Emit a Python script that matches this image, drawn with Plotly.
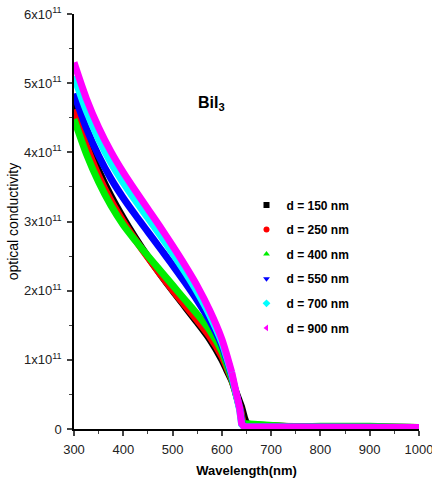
import plotly.graph_objects as go

# wavelength (nm) and optical conductivity (units of 1e11)
wl_magenta = [300, 325, 350, 375, 400, 425, 450, 475, 500, 525, 550, 575, 600, 610, 620, 630, 636, 640, 645, 700, 750, 800, 850, 900, 950, 1000]
s_900 = [5.30, 4.78, 4.36, 4.01, 3.71, 3.44, 3.18, 2.92, 2.65, 2.37, 2.07, 1.72, 1.30, 1.07, 0.82, 0.52, 0.30, 0.08, 0.03, 0.03, 0.03, 0.03, 0.03, 0.03, 0.02, 0.02]

wl_cyan = [300, 325, 350, 375, 400, 425, 450, 475, 500, 525, 550, 575, 600, 610, 620, 630, 636, 640, 645, 700, 750, 800, 850, 900, 950, 1000]
s_700 = [5.10, 4.60, 4.19, 3.85, 3.56, 3.30, 3.05, 2.80, 2.54, 2.27, 1.98, 1.65, 1.25, 1.03, 0.79, 0.50, 0.28, 0.07, 0.03, 0.03, 0.03, 0.03, 0.03, 0.03, 0.02, 0.02]

wl_blue = [300, 325, 350, 375, 400, 425, 450, 475, 500, 525, 550, 575, 600, 610, 620, 630, 637, 641, 646, 700, 750, 800, 850, 900, 950, 1000]
s_550 = [4.85, 4.35, 3.95, 3.62, 3.34, 3.09, 2.85, 2.61, 2.37, 2.12, 1.86, 1.57, 1.21, 1.00, 0.77, 0.50, 0.28, 0.07, 0.03, 0.03, 0.03, 0.03, 0.03, 0.03, 0.02, 0.02]

wl_black = [300, 325, 350, 375, 400, 425, 450, 475, 500, 525, 550, 575, 600, 610, 620, 630, 640, 646, 650, 660, 700, 750, 800, 850, 900, 950, 1000]
s_150 = [4.70, 4.18, 3.74, 3.37, 3.05, 2.76, 2.49, 2.24, 2.00, 1.77, 1.54, 1.30, 1.00, 0.85, 0.70, 0.52, 0.32, 0.16, 0.08, 0.06, 0.04, 0.03, 0.03, 0.03, 0.03, 0.02, 0.02]

wl_red = [300, 325, 350, 375, 400, 425, 450, 475, 500, 525, 550, 575, 600, 610, 620, 630, 638, 643, 650, 700, 750, 800, 850, 900, 950, 1000]
s_250 = [4.62, 4.10, 3.66, 3.30, 3.00, 2.73, 2.48, 2.24, 2.01, 1.79, 1.57, 1.34, 1.05, 0.89, 0.72, 0.50, 0.28, 0.08, 0.05, 0.04, 0.03, 0.03, 0.03, 0.03, 0.02, 0.02]

wl_green = [300, 325, 350, 375, 400, 425, 450, 475, 500, 525, 550, 575, 600, 610, 620, 630, 637, 642, 660, 700, 750, 800, 850, 900, 950, 1000]
s_400 = [4.48, 3.98, 3.57, 3.23, 2.95, 2.72, 2.50, 2.29, 2.08, 1.87, 1.66, 1.43, 1.12, 0.93, 0.73, 0.50, 0.28, 0.08, 0.07, 0.05, 0.03, 0.04, 0.05, 0.04, 0.03, 0.02]

labels = ["d = 150 nm", "d = 250 nm", "d = 400 nm", "d = 550 nm", "d = 700 nm", "d = 900 nm"]
colors = ["#000000", "#ff0000", "#00ee00", "#0000ff", "#00ffff", "#ff00ff"]
symbols = ["square", "circle", "triangle-up", "triangle-down", "diamond", "triangle-left"]
series_x = [wl_black, wl_red, wl_green, wl_blue, wl_cyan, wl_magenta]
series_y = [s_150, s_250, s_400, s_550, s_700, s_900]

y_tickvals = [0, 1, 2, 3, 4, 5, 6]
y_ticktext = ["0", "1x10<sup>11</sup>", "2x10<sup>11</sup>", "3x10<sup>11</sup>",
              "4x10<sup>11</sup>", "5x10<sup>11</sup>", "6x10<sup>11</sup>"]
x_tickvals = [300, 400, 500, 600, 700, 800, 900, 1000]

SPLIT_NM = 620  # smooth part up to here, straight segments for the sharp edge and tail

fig = go.Figure()
for i in range(6):
    xs, ys = series_x[i], [v * 1e11 for v in series_y[i]]
    k = xs.index(SPLIT_NM)
    fig.add_trace(go.Scatter(
        x=xs[:k + 1], y=ys[:k + 1], mode="lines",
        line=dict(color=colors[i], width=7, shape="spline", smoothing=0.8),
        showlegend=False, legendgroup=labels[i], hoverinfo="skip"))
    fig.add_trace(go.Scatter(
        x=xs[k:], y=ys[k:], mode="lines",
        line=dict(color=colors[i], width=7),
        showlegend=False, legendgroup=labels[i], hoverinfo="skip"))
for i in range(6):
    fig.add_trace(go.Scatter(
        x=[None], y=[None], mode="markers", name=labels[i],
        marker=dict(color=colors[i], symbol=symbols[i], size=6),
        legendgroup=labels[i], showlegend=True))

tick_font = dict(family="Liberation Sans, Arial", size=13, color="#222")
fig.update_layout(
    width=432, height=494,
    margin=dict(l=74, r=13, t=14, b=65),
    plot_bgcolor="white", paper_bgcolor="white",
    font=dict(family="Liberation Sans, Arial", color="black"),
    legend=dict(x=0.5, y=0.575, xanchor="left", yanchor="top",
                font=dict(family="Liberation Sans, Arial", size=12, color="black", weight="bold"),
                bgcolor="rgba(0,0,0,0)", tracegroupgap=5.6, itemwidth=30),
    xaxis=dict(range=[300, 1000], tickvals=x_tickvals, ticks="outside", ticklen=5,
               tickwidth=1.5, showline=True, linecolor="black", linewidth=1.5,
               showgrid=False, zeroline=False, tickfont=tick_font, ticklabeloverflow="allow",
               ticklabelstandoff=3, automargin=False,
               minor=dict(ticks="outside", ticklen=3, dtick=50, tickwidth=1.2, showgrid=False),
               title=dict(text="<b>Wavelength(nm)</b>", font=dict(size=13, color="black"), standoff=10)),
    yaxis=dict(range=[0, 6e11], tickvals=[v * 1e11 for v in y_tickvals], ticktext=y_ticktext,
               ticks="outside", ticklen=5, tickwidth=1.5, showline=True, linecolor="black",
               linewidth=1.5, showgrid=False, zeroline=False, tickfont=tick_font,
               ticklabeloverflow="allow", ticklabelstandoff=3, automargin=False,
               minor=dict(ticks="outside", ticklen=3, dtick=0.5e11, tickwidth=1.2, showgrid=False),
               title=dict(text="optical conductivity", font=dict(size=14, color="black"), standoff=2)),
    annotations=[dict(text="<b>BiI<sub>3</sub></b>", x=0.398, y=0.785, xref="paper", yref="paper",
                      showarrow=False, font=dict(size=16, color="black"),
                      xanchor="center", yanchor="middle")],
)
fig.write_html("out.html")
